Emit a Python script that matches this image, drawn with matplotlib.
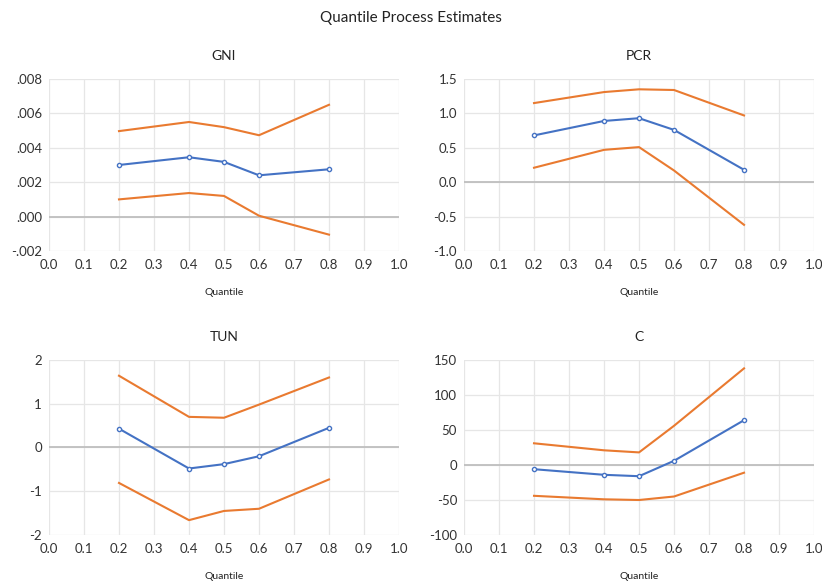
import numpy as np
import matplotlib.pyplot as plt
from matplotlib.ticker import FuncFormatter

plt.rcParams['font.family'] = ['Lato', 'DejaVu Sans']

quantiles = [0.2, 0.4, 0.5, 0.6, 0.8]

gni_est = [0.0030, 0.00345, 0.00318, 0.0024, 0.00275]
gni_upper = [0.00497, 0.0055, 0.0052, 0.00473, 0.0065]
gni_lower = [0.00100, 0.00137, 0.00120, 0.00005, -0.00105]

pcr_est = [0.68, 0.89, 0.93, 0.76, 0.18]
pcr_upper = [1.15, 1.31, 1.35, 1.34, 0.97]
pcr_lower = [0.21, 0.47, 0.51, 0.17, -0.62]

tun_est = [0.43, -0.48, -0.38, -0.20, 0.45]
tun_upper = [1.64, 0.70, 0.68, 0.98, 1.60]
tun_lower = [-0.81, -1.66, -1.45, -1.40, -0.73]

c_est = [-6, -14, -16, 6, 64]
c_upper = [31, 21, 18, 56, 138]
c_lower = [-44, -49, -50, -45, -11]

BLUE = '#4472C4'
ORANGE = '#E97A30'


def gni_fmt(v, pos):
    s = f"{v:.3f}"
    return s.replace("0.", ".")


panels = [
    ("GNI", gni_est, gni_upper, gni_lower, (-0.002, 0.008), np.arange(-0.002, 0.0081, 0.002), FuncFormatter(gni_fmt)),
    ("PCR", pcr_est, pcr_upper, pcr_lower, (-1.0, 1.5), np.arange(-1.0, 1.51, 0.5), FuncFormatter(lambda v, p: f"{v:.1f}")),
    ("TUN", tun_est, tun_upper, tun_lower, (-2, 2), np.arange(-2, 2.1, 1), FuncFormatter(lambda v, p: f"{v:.0f}")),
    ("C", c_est, c_upper, c_lower, (-100, 150), np.arange(-100, 151, 50), FuncFormatter(lambda v, p: f"{v:.0f}")),
]

positions = [
    [0.0596, 0.5717, 0.4258, 0.2935],
    [0.5645, 0.5717, 0.4258, 0.2935],
    [0.0596, 0.0870, 0.4258, 0.2987],
    [0.5645, 0.0870, 0.4258, 0.2987],
]

fig = plt.figure(figsize=(8.22, 5.86), dpi=100)
fig.suptitle("Quantile Process Estimates", y=0.982, fontsize=11, color='#222222')

for (name, est, up, lo, ylim, yticks, fmt), pos in zip(panels, positions):
    ax = fig.add_axes(pos)
    ax.plot(quantiles, up, color=ORANGE, lw=1.5, zorder=3)
    ax.plot(quantiles, lo, color=ORANGE, lw=1.5, zorder=3)
    ax.plot(quantiles, est, color=BLUE, lw=1.5, marker='o', markersize=3,
            markerfacecolor='white', markeredgecolor=BLUE, markeredgewidth=1, zorder=4)
    ax.axhline(0, color='#BFBFBF', lw=1.3, zorder=2)
    ax.set_xlim(0, 1)
    ax.set_ylim(*ylim)
    ax.set_xticks(np.arange(0, 1.01, 0.1))
    ax.xaxis.set_major_formatter(FuncFormatter(lambda v, p: f"{v:.1f}"))
    ax.set_yticks(yticks)
    ax.yaxis.set_major_formatter(fmt)
    ax.grid(True, color='#E6E6E6', lw=0.9, zorder=1)
    for s in ax.spines.values():
        s.set_visible(False)
    ax.tick_params(length=0, labelsize=9.5, colors='#333333')
    ax.tick_params(axis='x', pad=6)
    ax.tick_params(axis='y', pad=5)
    ax.set_title(name, fontsize=10, color='#222222', pad=14)
    ax.set_xlabel("Quantile", fontsize=7.5, color='#222222', labelpad=12)

plt.savefig("out.png", dpi=100)
